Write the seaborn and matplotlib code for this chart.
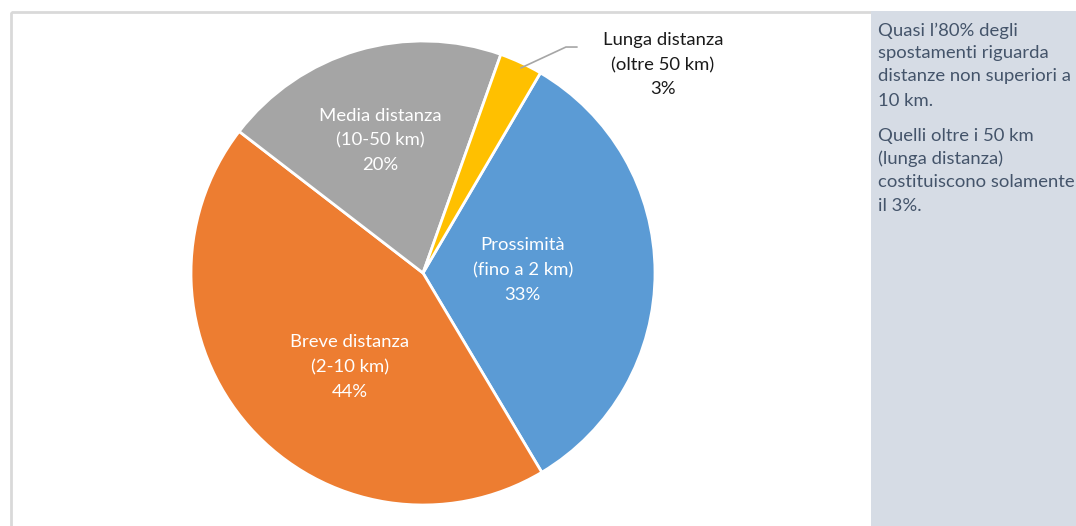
import matplotlib
matplotlib.use("Agg")
import matplotlib.pyplot as plt
import seaborn as sns
from matplotlib.patches import Rectangle

# data
categorie = ["Prossimità\n(fino a 2 km)", "Breve distanza\n(2-10 km)",
             "Media distanza\n(10-50 km)", "Lunga distanza\n(oltre 50 km)"]
quote = [33, 44, 20, 3]
colori = ["#5B9BD5", "#ED7D31", "#A5A5A5", "#FFC000"]
nota = ["Quasi l\u201980% degli", "spostamenti riguarda", "distanze non superiori a", "10 km.",
        "Quelli oltre i 50 km", "(lunga distanza)", "costituiscono solamente", "il 3%."]

sns.set_theme(style="white")
plt.rcParams['font.family'] = ['Lato', 'DejaVu Sans']

W, H = 1076, 526
fig = plt.figure(figsize=(W / 100, H / 100), dpi=100)

# background overlay in pixel coords
bg = fig.add_axes([0, 0, 1, 1])
bg.set_xlim(0, W)
bg.set_ylim(H, 0)
bg.axis('off')
bg.add_patch(Rectangle((10.5, 11.5), 861, 520, fill=False, edgecolor="#D9D9D9", lw=2))
bg.add_patch(Rectangle((871, 11), 210, 520, facecolor="#D6DCE5", edgecolor="none"))

# side note
righe_y = [31, 53, 76, 101, 136, 159, 182, 206]
for riga, y in zip(nota, righe_y):
    bg.text(878, y, riga, fontsize=13.3, color="#44546A", va="center", ha="left")

# pie
cx, cy, r = 423, 273, 232
ax = fig.add_axes([(cx - r) / W, (H - cy - r) / H, 2 * r / W, 2 * r / H])
wedges, _ = ax.pie(quote, colors=colori, startangle=59.6, counterclock=False,
                   wedgeprops=dict(edgecolor="white", linewidth=2))
ax.set_xlim(-1, 1)
ax.set_ylim(-1, 1)
ax.set_aspect('equal')

pos = [(0.43, 0.013), (-0.315, -0.405), (-0.185, 0.573), (1.034, 0.897)]
for i, (lab, v) in enumerate(zip(categorie, quote)):
    col = "white" if i < 3 else "#1A1A1A"
    ax.text(pos[i][0], pos[i][1], f"{lab}\n{v}%", ha="center", va="center",
            fontsize=13.3, color=col, linespacing=1.65, clip_on=False)

# leader line for small slice
ax.plot([0.422, 0.616, 0.664], [0.884, 0.974, 0.974], color="#A6A6A6", lw=1.2, clip_on=False)

fig.savefig("out.png", dpi=100)
